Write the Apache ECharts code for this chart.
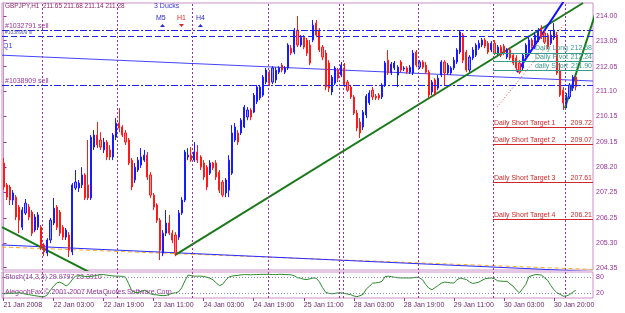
<!DOCTYPE html>
<html>
<head>
<meta charset="utf-8">
<title>GBPJPY,H1</title>
<script src="https://cdn.jsdelivr.net/npm/echarts/dist/echarts.min.js"></script>
<style>
  html, body { margin: 0; padding: 0; background: #fff; }
  #chart { width: 625px; height: 313px; }
</style>
</head>
<body>
<div id="chart"></div>
<script>
// H1 bars per day: [day, first hour, last hour, missing hour]
const days = [
  ['21 Jan', 11, 23], ['22 Jan', 0, 23], ['23 Jan', 0, 23], ['24 Jan', 0, 23],
  ['25 Jan', 0, 22], ['27 Jan', 23, 23], ['28 Jan', 0, 23], ['29 Jan', 0, 23],
  ['30 Jan', 0, 23, 12], ['31 Jan', 0, 3]
];
const emptySlots = 5;
const timeLabels = ['21 Jan 2008', '22 Jan 03:00', '22 Jan 19:00', '23 Jan 11:00', '24 Jan 03:00',
  '24 Jan 19:00', '25 Jan 11:00', '28 Jan 03:00', '28 Jan 19:00', '29 Jan 11:00', '30 Jan 03:00', '30 Jan 20:00'];
const priceTicks = [214.00, 213.05, 212.05, 211.10, 210.15, 209.15, 208.20, 207.25, 206.25, 205.30, 204.35];
const stochTicks = [80, 20];

// [open, close, low, high]
const candles = [
[208.36,207.44,207.32,208.55],[207.52,207.05,206.94,207.59],[207.44,206.94,206.75,207.52],[206.94,207.21,206.75,207.32],
[207.05,206.29,206.17,207.13],[206.67,206.17,205.67,206.75],[205.90,206.56,205.79,206.67],[206.44,206.82,206.37,206.98],
[206.67,206.29,206.17,206.79],[206.48,205.67,205.56,206.56],[205.79,206.29,205.71,206.40],[205.90,206.37,205.79,206.48],
[205.90,205.14,205.02,205.98],[205.22,204.95,204.79,205.29],[204.91,205.41,204.79,205.48],[205.41,206.17,205.29,206.25],
[206.06,206.63,205.98,207.02],[206.67,205.90,205.79,206.75],[206.48,205.67,205.56,206.56],[205.90,205.52,205.41,205.98],
[205.52,205.79,205.41,205.87],[205.60,205.02,204.76,205.71],[204.95,207.52,204.83,207.59],[207.40,207.63,207.32,208.09],
[207.40,207.59,207.25,207.71],[207.52,207.90,207.40,208.20],[207.90,207.02,206.94,207.97],[207.52,207.02,206.94,209.24],
[207.02,209.35,206.94,209.43],[208.97,209.43,208.86,209.62],[209.43,209.05,208.93,209.93],[209.24,208.97,208.86,209.54],
[208.86,209.16,208.74,209.32],[209.16,208.59,208.47,209.24],[208.86,208.59,208.47,209.05],[208.59,209.43,208.47,209.51],
[209.35,209.89,209.24,210.08],[209.89,209.70,209.54,210.46],[209.74,209.43,209.35,209.81],[209.51,209.16,209.05,209.62],
[209.24,208.36,208.28,209.32],[208.47,207.44,207.32,208.55],[207.71,208.20,207.59,208.36],[208.09,208.47,208.01,208.59],
[208.28,208.59,208.17,208.93],[208.47,208.66,208.40,208.86],[208.66,207.82,207.71,208.78],[207.90,207.13,207.02,208.01],
[207.13,206.67,206.56,207.21],[206.75,206.17,206.06,206.82],[206.17,205.02,204.64,206.25],[204.91,205.67,204.79,205.79],
[205.67,206.06,205.56,206.56],[206.06,205.67,205.60,206.37],[205.67,205.41,205.29,205.79],[205.60,204.91,204.79,205.71],
[205.52,206.44,205.41,206.56],[206.44,206.94,206.37,207.05],[206.94,208.78,206.86,208.86],[208.59,208.66,208.47,208.93],
[208.66,208.47,208.40,208.97],[208.47,208.78,208.40,209.16],[208.78,208.47,208.36,209.05],[208.59,208.20,208.09,208.66],
[208.36,207.82,207.71,208.47],[208.20,207.44,207.32,208.28],[207.97,208.36,207.90,208.47],[208.36,208.17,208.09,208.40],
[208.36,207.82,207.71,208.47],[208.01,207.32,207.21,208.09],[207.63,207.13,207.05,207.71],[207.21,207.71,207.05,207.78],
[207.32,208.47,207.05,208.66],[207.97,209.51,207.90,209.81],[209.24,209.74,209.16,209.89],[209.51,209.16,209.05,209.62],
[209.51,210.00,209.43,210.08],[209.74,210.50,209.70,210.58],[210.12,210.39,210.00,210.50],[210.39,210.12,210.00,210.46],
[210.31,210.96,210.27,211.04],[210.71,211.27,210.62,211.35],[210.85,211.27,210.77,211.35],[210.96,211.65,210.89,211.73],
[211.46,211.92,211.38,212.00],[211.84,211.42,211.31,211.92],[211.46,212.00,211.38,212.07],[211.54,211.92,211.42,212.03],
[211.84,212.00,211.77,212.07],[212.11,211.92,211.84,212.19],[211.84,212.00,211.77,212.07],[212.00,212.88,211.92,212.95],
[212.76,212.57,212.49,212.88],[212.61,213.45,212.53,213.53],[213.45,212.88,212.80,213.99],[212.88,213.18,212.80,213.26],
[213.18,212.80,212.72,213.26],[213.07,212.57,212.46,213.15],[212.88,212.19,212.11,213.07],[213.07,213.64,212.99,213.84],
[213.72,213.26,213.18,213.84],[213.45,212.69,212.61,213.53],[212.80,212.42,212.30,212.88],[212.57,211.27,211.15,212.69],
[212.19,211.23,211.08,212.30],[211.08,211.65,210.96,211.73],[211.42,212.00,211.35,212.07],[211.92,211.61,211.46,212.00],
[211.73,212.11,211.65,212.23],[212.00,211.35,211.27,212.19],[211.46,211.15,211.08,211.54],[211.27,210.89,210.81,211.35],
[210.89,210.27,210.20,210.96],[210.27,209.70,209.58,210.39],[209.93,209.51,209.32,210.08],[209.74,210.31,209.62,210.39],
[210.20,210.92,210.08,211.00],[210.66,211.04,210.58,211.15],[211.15,210.89,210.77,211.27],[210.92,210.85,210.77,211.00],
[210.96,210.85,210.77,211.04],[210.89,211.35,210.81,211.42],[211.35,212.19,211.27,212.27],[212.30,211.81,211.73,212.69],
[211.81,212.15,211.73,212.23],[212.00,212.19,211.92,212.27],[211.73,212.03,211.27,212.11],[212.23,211.92,211.84,212.30],
[211.96,212.00,211.88,212.07],[212.00,211.84,211.77,212.07],[211.84,212.03,211.77,212.11],[211.81,212.57,211.73,212.69],
[212.61,212.11,212.03,212.69],[212.03,212.23,211.96,212.30],[212.23,212.03,211.96,212.30],[212.11,211.84,211.77,212.23],
[211.84,210.96,210.85,211.92],[211.08,211.46,210.96,211.54],[211.54,211.04,210.92,211.61],[211.23,211.61,211.15,211.73],
[211.73,212.23,211.65,212.30],[212.23,211.81,211.35,212.30],[211.81,212.11,211.73,212.19],[211.81,212.00,211.73,212.07],
[212.00,212.30,211.92,212.42],[212.23,212.69,212.15,212.76],[212.61,213.38,212.53,213.45],[213.26,212.30,212.19,213.34],
[212.61,211.92,211.84,212.69],[211.92,212.42,211.84,212.49],[212.38,212.69,212.30,212.80],[212.49,212.88,212.42,212.95],
[212.76,212.95,212.69,213.07],[212.88,213.07,212.80,213.15],[213.07,212.84,212.76,213.15],[212.95,212.61,212.53,213.03],
[212.69,212.95,212.61,213.03],[212.95,212.57,212.49,213.07],[212.57,212.80,212.49,212.88],[212.80,212.49,212.42,212.88],
[212.84,212.57,212.49,212.92],[212.42,212.69,212.34,212.76],[212.69,212.38,212.30,212.76],[212.49,212.19,212.11,212.57],
[212.38,212.00,211.92,212.49],[212.19,211.84,211.77,212.30],[212.00,212.49,211.92,212.57],[212.49,212.88,212.42,212.95],
[212.61,213.07,212.53,213.18],[213.07,212.84,212.76,213.15],[212.80,213.26,212.72,213.34],[213.07,213.45,212.99,213.53],
[213.53,213.18,213.11,213.64],[213.34,212.99,212.92,213.45],[213.26,212.80,212.72,213.34],[212.95,213.26,212.88,213.45],
[213.15,213.45,213.07,213.72],[213.26,211.81,211.73,213.38],[211.92,210.96,210.89,212.19],[211.15,210.66,210.39,211.27],
[210.58,210.96,210.46,211.04],[210.89,211.35,210.81,211.42],[211.23,211.65,211.12,211.73],[211.65,211.28,211.14,211.68]
];

// Stochastic %K (14,3,3)
const stochK = [
16,17,18,19,19,20,18,15,13,11, 9,7,5,5,12,30,45,58,61,55,
46,55,71,84,86,85,83,82,84,85, 88,90,90,88,86,85,84,84,83,80,
55,28,22,20,26,30,24,16,13,12, 10,9,10,14,18,20,24,40,66,88,
86,84,84,84,83,80,76,70,58,48, 52,68,80,84,86,87,89,90,90,89,
90,90,91,91,91,91,90,90,91,91, 90,90,89,85,78,76,72,71,74,77,
76,62,40,22,18,16,18,20,20,18, 15,13,8,5,9,14,35,45,57,58,
60,64,82,84,82,80,78,77,77,77, 77,78,80,78,70,52,38,32,40,48,
57,61,60,58,58,70,77,74,71,62, 56,58,61,68,74,76,77,74,66,65,
64,64,54,45,30,20,36,52,82,86, 90,90,88,78,68,48,32,20,14,7,
8,13,22,30
];

// [bar, price, bar, price]
const trendLines = {
  q1:      [-0.5, 212.49, 188.5, 211.50],
  lowBlue: [-0.5, 205.22, 188.5, 204.20],
  lowOrg:  [-0.5, 205.14, 188.5, 204.28],
  greenDn: [-0.5, 205.90, 30, 204.02],
  greenUp: [54.8, 204.83, 185.3, 214.49],
  greenR:  [179.5, 210.46, 189.1, 214.03],
  blueUp:  [164.2, 211.84, 179.0, 214.53],
  redDot:  [157.8, 210.50, 179.0, 213.64]
};
const orderLines = [
  { name: '#1032791 sell', price: 213.45 },
  { name: '#1038909 sl', price: 213.22 },
  { name: '#1038909 sell', price: 211.33 }
];
const dailyStart = 156.5;
const dailyLevels = [['Daily Long', 212.58], ['Daily Pivot', 212.24], ['daily Short', 211.90]];
const shortTargets = [['Daily Short Target 1', 209.72], ['Daily Short Target 2', 209.07],
  ['Daily Short Target 3', 207.61], ['Daily Short Target 4', 206.21]];
const lastPrice = 211.28;

const categories = [];
const dayStarts = [];
days.forEach(function (d, k) {
  if (k > 0) dayStarts.push(categories.length);
  for (let h = d[1]; h <= d[2]; h++) {
    if (h === d[3]) continue;
    categories.push(d[0] + ' ' + (h < 10 ? '0' : '') + h + ':00');
  }
});
for (let k = 0; k < emptySlots; k++) categories.push('');
const xMax = categories.length - 0.5;

const FONT = 'Liberation Sans';
const PURPLE = '#993399';
const TEAL = '#3a9a8c';
const RED = '#d02828';

function seg(key, color, width, type) {
  const t = trendLines[key];
  return {
    type: 'line', xAxisIndex: 1, yAxisIndex: 0, silent: true, symbol: 'none',
    data: [[t[0], t[1]], [t[2], t[3]]],
    lineStyle: { color: color, width: width, type: type || 'solid' }, z: 3
  };
}

// one level line with a name on the left part and its value at the right end
function levelLines(levels, color, namePad) {
  const out = [];
  levels.forEach(function (d) {
    const style = { color: color, width: 1, type: 'solid' };
    const font = { color: color, fontSize: 7, fontFamily: FONT };
    out.push([{
      coord: [dailyStart, d[1]], lineStyle: style,
      label: Object.assign({ show: true, position: 'insideEndTop', distance: [1, 1], formatter: d[1].toFixed(2) }, font)
    }, { coord: [xMax, d[1]] }]);
    out.push([{
      coord: [dailyStart, d[1]], lineStyle: style,
      label: namePad === null
        ? Object.assign({ show: true, position: 'insideStartTop', distance: [1, 1], formatter: d[0] }, font)
        : Object.assign({ show: true, position: 'insideEndTop', distance: [namePad, 1], formatter: d[0] }, font)
    }, { coord: [xMax, d[1]] }]);
  });
  return out;
}

const chart = echarts.init(document.getElementById('chart'));
chart.setOption({
  animation: false,
  backgroundColor: '#ffffff',
  grid: [
    { left: 2, right: 32, top: 3, height: 267, show: true, borderColor: '#c890c8', borderWidth: 1, outerBoundsMode: 'none' },
    { left: 2, right: 32, top: 272, height: 26, show: true, borderColor: '#c890c8', borderWidth: 1, outerBoundsMode: 'none' }
  ],
  xAxis: [
    { type: 'category', gridIndex: 0, data: categories, show: false },
    { type: 'value', gridIndex: 0, min: -0.5, max: xMax, show: false },
    {
      type: 'category', gridIndex: 1, data: categories,
      axisLine: { show: false },
      axisTick: { show: true, interval: 15, alignWithLabel: true, length: 3, lineStyle: { color: PURPLE } },
      axisLabel: {
        interval: 15, align: 'left', margin: 4, color: '#6a2a6a', fontSize: 7, fontFamily: FONT,
        formatter: function (v, i) { return timeLabels[i / 16] || ''; }
      },
      splitLine: { show: false }
    },
    { type: 'value', gridIndex: 1, min: -0.5, max: xMax, show: false }
  ],
  yAxis: [
    {
      type: 'value', gridIndex: 0, position: 'right', min: 204.26, max: 214.49, scale: true,
      splitLine: { show: false },
      axisLine: { show: true, lineStyle: { color: '#c890c8' } },
      axisTick: { show: true, customValues: priceTicks, length: 3, lineStyle: { color: PURPLE } },
      axisLabel: { customValues: priceTicks, formatter: function (v) { return v.toFixed(2); },
        color: PURPLE, fontSize: 7, fontFamily: FONT, margin: 3 }
    },
    {
      type: 'value', gridIndex: 1, position: 'right', min: 0, max: 100,
      splitLine: { show: false },
      axisLine: { show: true, lineStyle: { color: '#c890c8' } },
      axisTick: { show: true, customValues: stochTicks, length: 3, lineStyle: { color: PURPLE } },
      axisLabel: { customValues: stochTicks, color: PURPLE, fontSize: 7, fontFamily: FONT, margin: 3 }
    }
  ],
  series: [
    {
      type: 'line', xAxisIndex: 1, yAxisIndex: 0, data: [], silent: true, z: 1,
      markLine: {
        symbol: 'none', silent: true,
        lineStyle: { color: PURPLE, type: [2, 2], width: 1 },
        label: { show: false },
        data: dayStarts.map(function (i) { return { xAxis: i - 0.5 }; })
      }
    },
    {
      type: 'line', xAxisIndex: 3, yAxisIndex: 1, data: [], silent: true, z: 1,
      markLine: {
        symbol: 'none', silent: true,
        lineStyle: { color: PURPLE, type: [2, 2], width: 1 },
        label: { show: false },
        data: dayStarts.map(function (i) { return { xAxis: i - 0.5 }; })
      }
    },
    {
      type: 'line', xAxisIndex: 1, yAxisIndex: 0, data: [], silent: true, z: 2,
      markLine: {
        symbol: 'none', silent: true,
        data: orderLines.map(function (o, k) {
          return {
            yAxis: o.price,
            lineStyle: { color: '#2222ee', width: 1, type: k === 1 ? [6, 3] : [7, 2, 2, 2] },
            label: { show: true, position: 'insideStartTop', formatter: o.name, distance: [3, 1],
              color: k === 1 ? '#5555aa' : PURPLE, fontSize: k === 1 ? 5 : 7, fontFamily: FONT }
          };
        })
      }
    },
    {
      type: 'line', xAxisIndex: 1, yAxisIndex: 0, data: [], silent: true, z: 2,
      markLine: {
        symbol: 'none', silent: true,
        data: levelLines(dailyLevels, TEAL, 25).concat(levelLines(shortTargets, RED, null))
      }
    },
    seg('q1', '#4444ff', 1),
    seg('lowOrg', '#ffaa22', 1, [4, 3]),
    seg('lowBlue', '#2a2aff', 1),
    seg('greenDn', '#1a7a1a', 2),
    seg('greenUp', '#1a7a1a', 2),
    seg('greenR', '#1a7a1a', 2),
    seg('blueUp', '#1010ff', 2),
    seg('redDot', '#ee4444', 1, [1, 2]),
    {
      type: 'candlestick', xAxisIndex: 0, yAxisIndex: 0, data: candles, barWidth: 1.6, z: 4,
      itemStyle: { color: '#9a9aff', color0: '#ff8a8a', borderColor: '#1a1aff', borderColor0: '#ff1a1a', borderWidth: 1 },
      markLine: {
        symbol: 'none', silent: true,
        data: [{ yAxis: lastPrice }],
        lineStyle: { opacity: 0 },
        label: { show: true, position: 'end', distance: 1, formatter: lastPrice.toFixed(2),
          backgroundColor: '#8e2f8e', color: '#ffffff', fontSize: 7, fontFamily: FONT, padding: [2, 3, 1, 3] }
      }
    },
    {
      type: 'line', xAxisIndex: 2, yAxisIndex: 1, data: stochK, symbol: 'none', silent: true,
      lineStyle: { color: '#2a8a2a', width: 1 },
      markLine: {
        symbol: 'none', silent: true,
        lineStyle: { color: '#7f8fa4', type: [1, 2], width: 1 },
        label: { show: false },
        data: [{ yAxis: 80 }, { yAxis: 20 }]
      }
    }
  ],
  graphic: [
    { type: 'text', left: 5, top: 3, style: { text: 'GBPJPY,H1  211.65 211.68 211.14 211.28', fill: '#8a2a6a', font: '6.4px "Liberation Sans"' } },
    { type: 'text', left: 154, top: 3, style: { text: '3 Ducks', fill: '#3a3acc', font: '7px "Liberation Sans"' } },
    { type: 'text', left: 156, top: 15, style: { text: 'M5', fill: '#2a2acc', font: '7px "Liberation Sans"' } },
    { type: 'text', left: 177, top: 15, style: { text: 'H1', fill: '#dd2222', font: '7px "Liberation Sans"' } },
    { type: 'text', left: 196, top: 15, style: { text: 'H4', fill: '#2a2acc', font: '7px "Liberation Sans"' } },
    { type: 'polygon', shape: { points: [[160, 27], [162.5, 24], [165, 27]] }, style: { fill: '#2a2acc' } },
    { type: 'polygon', shape: { points: [[179, 24], [181.5, 27], [184, 24]] }, style: { fill: '#dd2222' } },
    { type: 'polygon', shape: { points: [[198, 27], [200.5, 24], [203, 27]] }, style: { fill: '#2a2acc' } },
    { type: 'text', left: 3, top: 43, style: { text: 'Q1', fill: '#3333ee', font: '7px "Liberation Sans"' } },
    { type: 'text', left: 5, top: 274, style: { text: 'Stoch(14,3,3) 29.9797 23.3910', fill: PURPLE, font: '7px "Liberation Sans"' } },
    { type: 'text', left: 5, top: 289, style: { text: 'AlegoohFax © 2001-2007 MetaQuotes Software Corp.', fill: PURPLE, font: '7px "Liberation Sans"' } }
  ]
});
</script>
</body>
</html>
